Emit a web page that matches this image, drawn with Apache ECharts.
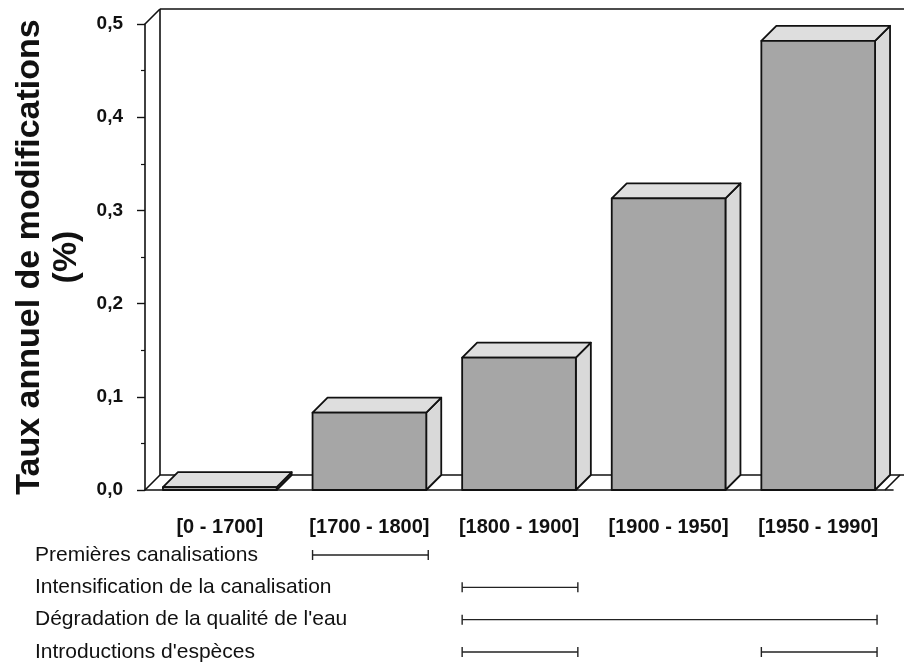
<!DOCTYPE html>
<html><head><meta charset="utf-8">
<script src="https://cdn.jsdelivr.net/npm/echarts@6/dist/echarts.min.js"></script>
<style>html,body{margin:0;padding:0;background:#fff}#c{width:904px;height:665px}</style>
</head><body><div id="c"></div>
<script>
const categories = ['[0 - 1700]', '[1700 - 1800]', '[1800 - 1900]', '[1900 - 1950]', '[1950 - 1990]'];
const rates = [0.003, 0.083, 0.142, 0.313, 0.482];
const yTicks = [0, 0.1, 0.2, 0.3, 0.4, 0.5];
const events = ['Premières canalisations', 'Intensification de la canalisation', "Dégradation de la qualité de l'eau", "Introductions d'espèces"];
// [row, start category index, end category index]
const eventSpans = [[0, 1, 1], [1, 2, 2], [2, 2, 4], [3, 2, 2], [3, 4, 4]];

const DX = 15, DY = -15, BARW = 0.76;
const FONT = '"Liberation Sans", Arial, Helvetica, sans-serif';
const chart = echarts.init(document.getElementById('c'));

function frameItem(params, api) {
  const cs = params.coordSys;
  const x = cs.x, y = cs.y, w = cs.width, h = cs.height;
  const st = {stroke: '#111', lineWidth: 1.6, fill: null};
  const line = (x1, y1, x2, y2) => ({type: 'line', shape: {x1, y1, x2, y2}, style: st});
  return {type: 'group', children: [
    line(x + DX, y + DY, x + DX, y + h + DY),
    line(x + DX, y + DY, 920, y + DY),
    line(x, y, x + DX, y + DY),
    line(x + DX, y + h + DY, 920, y + h + DY),
    line(x, y + h, x + DX, y + h + DY),
    line(x + w - 8, y + h, x + w - 8 + DX, y + h + DY)
  ]};
}

function barItem(params, api) {
  const top = api.coord([api.value(0), api.value(1)]);
  const base = api.coord([api.value(0), 0]);
  const bw = api.size([1, 0])[0] * BARW;
  const l = top[0] - bw / 2, r = top[0] + bw / 2, t = Math.min(top[1], base[1] - 2), b = base[1];
  const edge = {stroke: '#111', lineWidth: 1.8, lineJoin: 'round'};
  return {type: 'group', children: [
    {type: 'polygon', shape: {points: [[r, t], [r + DX, t + DY], [r + DX, b + DY], [r, b]]},
     style: Object.assign({fill: '#d9d9d9'}, edge)},
    {type: 'polygon', shape: {points: [[l, t], [l + DX, t + DY], [r + DX, t + DY], [r, t]]},
     style: Object.assign({fill: '#dedede'}, edge)},
    {type: 'rect', shape: {x: l, y: t, width: bw, height: b - t},
     style: Object.assign({fill: '#a6a6a6'}, edge)}
  ]};
}

function spanItem(params, api) {
  const row = api.value(0), s = api.value(1), e = api.value(2);
  const bw = api.size([1, 0])[0] * BARW;
  const p1 = api.coord([s, row]), p2 = api.coord([e, row]);
  const x1 = p1[0] - bw / 2, x2 = p2[0] + bw / 2 + 2, yy = p1[1];
  const st = {stroke: '#222', lineWidth: 1.4};
  return {type: 'group', children: [
    {type: 'line', shape: {x1, y1: yy, x2, y2: yy}, style: st},
    {type: 'line', shape: {x1, y1: yy - 5, x2: x1, y2: yy + 5}, style: st},
    {type: 'line', shape: {x1: x2, y1: yy - 5, x2, y2: yy + 5}, style: st}
  ]};
}

chart.setOption({
  animation: false,
  backgroundColor: '#fff',
  grid: [
    {left: 145, top: 24, width: 748, height: 466},
    {left: 145, top: 555, width: 748, height: 97}
  ],
  xAxis: [
    {type: 'category', gridIndex: 0, data: categories, boundaryGap: true,
     axisLine: {lineStyle: {color: '#111', width: 1.6}}, axisTick: {show: false},
     axisLabel: {interval: 0, hideOverlap: false, color: '#111', fontFamily: FONT, fontWeight: 'bold', fontSize: 20, margin: 27}},
    {type: 'category', gridIndex: 1, data: categories, show: false}
  ],
  yAxis: [
    {type: 'value', gridIndex: 0, min: 0, max: 0.5, interval: 0.1,
     name: 'Taux annuel de modifications\n(%)', nameLocation: 'middle', nameRotate: 90, nameGap: 60,
     nameTextStyle: {color: '#111', fontFamily: FONT, fontWeight: 'bold', fontSize: 34, lineHeight: 37},
     axisLine: {show: true, lineStyle: {color: '#111', width: 1.6}},
     axisTick: {show: true, length: 8, lineStyle: {color: '#111', width: 1.4}},
     minorTick: {show: true, splitNumber: 2, length: 4, lineStyle: {color: '#111', width: 1.2}},
     splitLine: {show: false},
     axisLabel: {color: '#111', fontFamily: FONT, fontWeight: 'bold', fontSize: 19, margin: 22,
       customValues: yTicks, formatter: v => v.toFixed(1).replace('.', ',')}},
    {type: 'category', gridIndex: 1, data: events, inverse: true, boundaryGap: false,
     axisLine: {show: false}, axisTick: {show: false}, splitLine: {show: false},
     axisLabel: {interval: 0, align: 'left', margin: 110, color: '#111', fontFamily: FONT, fontSize: 21}}
  ],
  series: [
    {type: 'custom', xAxisIndex: 0, yAxisIndex: 0, z: 1, data: [[0, 0]], renderItem: frameItem, silent: true},
    {type: 'custom', xAxisIndex: 0, yAxisIndex: 0, z: 3, renderItem: barItem,
     data: rates.map((v, i) => [i, v]), encode: {x: 0, y: 1}},
    {type: 'custom', xAxisIndex: 1, yAxisIndex: 1, z: 3, renderItem: spanItem,
     data: eventSpans, encode: {y: 0, x: [1, 2]}}
  ]
});
</script></body></html>
